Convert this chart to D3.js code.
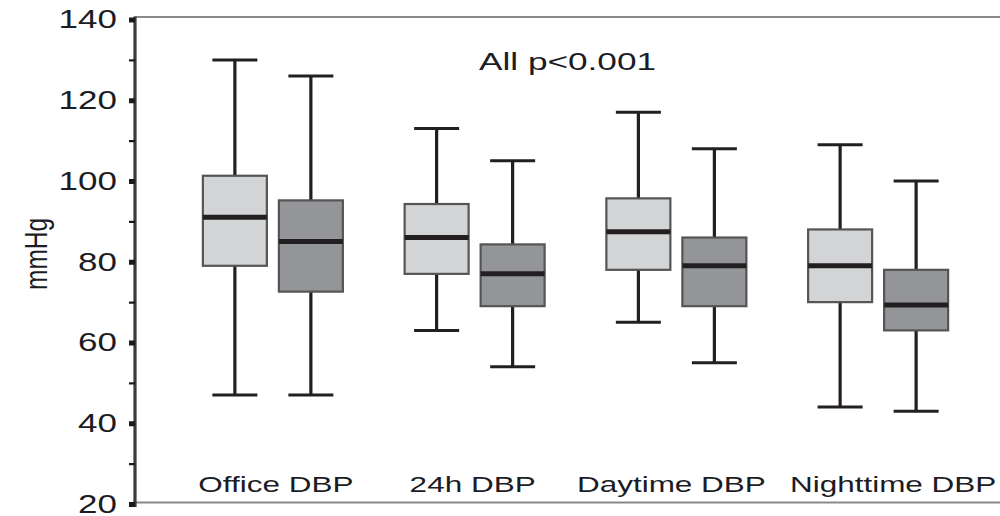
<!DOCTYPE html>
<html>
<head>
<meta charset="utf-8">
<script src="https://cdn.jsdelivr.net/npm/d3@7"></script>
<style>
  html, body { margin: 0; padding: 0; background: #fff; }
  svg { display: block; }
  text { font-family: "Liberation Sans", Arial, sans-serif; fill: #1c1c24; }
</style>
</head>
<body>
<div id="chart"></div>
<script>
// ---- data ----
const categories = ["Office DBP", "24h DBP", "Daytime DBP", "Nighttime DBP"];
const seriesNames = ["Group 1", "Group 2"];
// Group 1 (light boxes)
const g1Min    = [47, 63, 65, 44];
const g1Q1     = [79, 77, 78, 70];
const g1Median = [91, 86, 87.4, 79];
const g1Q3     = [101.3, 94.3, 95.7, 88];
const g1Max    = [130, 113, 117, 109];
// Group 2 (dark boxes)
const g2Min    = [47, 54, 55, 43];
const g2Q1     = [72.6, 69, 69, 63];
const g2Median = [85, 77, 79, 69.3];
const g2Q3     = [95.2, 84.3, 86, 78];
const g2Max    = [126, 105, 108, 100];
const yTicks = [20, 40, 60, 80, 100, 120, 140];
const yMinorTicks = [30, 50, 70, 90, 110, 130];
const annotation = "All p<0.001";
const yLabel = "mmHg";

// ---- layout ----
const W = 1000, H = 516;
const axisX = 135;
const stretch = 1.4; // text in the original is horizontally stretched
const labelShift = [3, -2, -5, 15]; // small horizontal nudges of category labels
const colors = {"Group 1": "#d3d4d6", "Group 2": "#949599"};

const svg = d3.select("#chart").append("svg").attr("width", W).attr("height", H);

const y = d3.scaleLinear().domain([20, 140]).range([504, 19.5]);
const x0 = d3.scaleBand().domain(categories).range([172, 979]).paddingInner(0).paddingOuter(0);
const x1 = d3.scaleBand().domain(seriesNames).range([-70, 70]).paddingInner(0.158);

const rows = [];
categories.forEach((c, i) => {
  rows.push({cat: c, s: "Group 1", min: g1Min[i], q1: g1Q1[i], med: g1Median[i], q3: g1Q3[i], max: g1Max[i]});
  rows.push({cat: c, s: "Group 2", min: g2Min[i], q1: g2Q1[i], med: g2Median[i], q3: g2Q3[i], max: g2Max[i]});
});

// frame lines (top and bottom)
svg.append("line").attr("x1", axisX).attr("x2", W).attr("y1", y(140) - 2.5).attr("y2", y(140) - 2.5)
  .attr("stroke", "#8a8a8a").attr("stroke-width", 2.2);
svg.append("line").attr("x1", axisX).attr("x2", W).attr("y1", y(20) - 1.5).attr("y2", y(20) - 1.5)
  .attr("stroke", "#8a8a8a").attr("stroke-width", 2.2);

// y axis
const yAxis = d3.axisLeft(y).tickValues(yTicks).tickSize(6).tickFormat("");
const gy = svg.append("g").attr("transform", `translate(${axisX},0)`).call(yAxis);
gy.select(".domain").attr("stroke", "#3a3a3a").attr("stroke-width", 3.2)
  .attr("d", `M0,${y(140) - 3}V${y(20) + 3}`);
gy.selectAll(".tick line").attr("stroke", "#1a1a1a").attr("stroke-width", 5);
const yMinor = d3.axisLeft(y).tickValues(yMinorTicks).tickSize(6).tickFormat("");
const gym = svg.append("g").attr("transform", `translate(${axisX},0)`).call(yMinor);
gym.select(".domain").remove();
gym.selectAll(".tick line").attr("stroke", "#1a1a1a").attr("stroke-width", 2.2);

// tick labels (stretched)
svg.selectAll(".ylab").data(yTicks).join("text")
  .attr("class", "ylab")
  .attr("transform", d => `translate(${axisX - 18},${y(d)}) scale(${stretch},1)`)
  .attr("text-anchor", "end").attr("dy", "0.35em")
  .style("font-size", "25px")
  .text(d => d);

// y label
svg.append("text")
  .attr("transform", `translate(47,254) scale(${stretch},1) rotate(-90)`)
  .attr("text-anchor", "middle")
  .attr("textLength", 72).attr("lengthAdjust", "spacingAndGlyphs")
  .style("font-size", "22px")
  .text(yLabel);

// boxes
const gBox = svg.append("g");
const boxes = gBox.selectAll("g.box").data(rows).join("g").attr("class", "box")
  .attr("transform", d => `translate(${x0(d.cat) + x0.bandwidth() / 2 + x1(d.s) + x1.bandwidth() / 2},0)`);
const bw = x1.bandwidth();
const capW = 45;
const wc = "#231f20";
// whiskers
boxes.append("line").attr("x1", 0).attr("x2", 0).attr("y1", d => y(d.max)).attr("y2", d => y(d.q3))
  .attr("stroke", wc).attr("stroke-width", 3.2);
boxes.append("line").attr("x1", 0).attr("x2", 0).attr("y1", d => y(d.q1)).attr("y2", d => y(d.min))
  .attr("stroke", wc).attr("stroke-width", 3.2);
// caps
boxes.append("line").attr("x1", -capW / 2).attr("x2", capW / 2).attr("y1", d => y(d.max)).attr("y2", d => y(d.max))
  .attr("stroke", wc).attr("stroke-width", 3);
boxes.append("line").attr("x1", -capW / 2).attr("x2", capW / 2).attr("y1", d => y(d.min)).attr("y2", d => y(d.min))
  .attr("stroke", wc).attr("stroke-width", 3);
// box
boxes.append("rect").attr("x", -bw / 2).attr("width", bw)
  .attr("y", d => y(d.q3)).attr("height", d => y(d.q1) - y(d.q3))
  .attr("fill", d => colors[d.s]).attr("stroke", "#555").attr("stroke-width", 2.2);
// median
boxes.append("line").attr("x1", -bw / 2).attr("x2", bw / 2).attr("y1", d => y(d.med)).attr("y2", d => y(d.med))
  .attr("stroke", wc).attr("stroke-width", 5);

// category labels
svg.selectAll(".xlab").data(categories).join("text")
  .attr("class", "xlab")
  .attr("transform", (d, i) => `translate(${x0(d) + x0.bandwidth() / 2 + labelShift[i]},491.5) scale(${stretch},1)`)
  .attr("text-anchor", "middle")
  .style("font-size", "22.5px")
  .text(d => d);

// annotation
svg.append("text")
  .attr("transform", `translate(${(axisX + W) / 2},69.5) scale(${stretch},1)`)
  .attr("text-anchor", "middle")
  .attr("textLength", 177 / stretch).attr("lengthAdjust", "spacingAndGlyphs")
  .style("font-size", "23px")
  .text(annotation);
</script>
</body>
</html>
